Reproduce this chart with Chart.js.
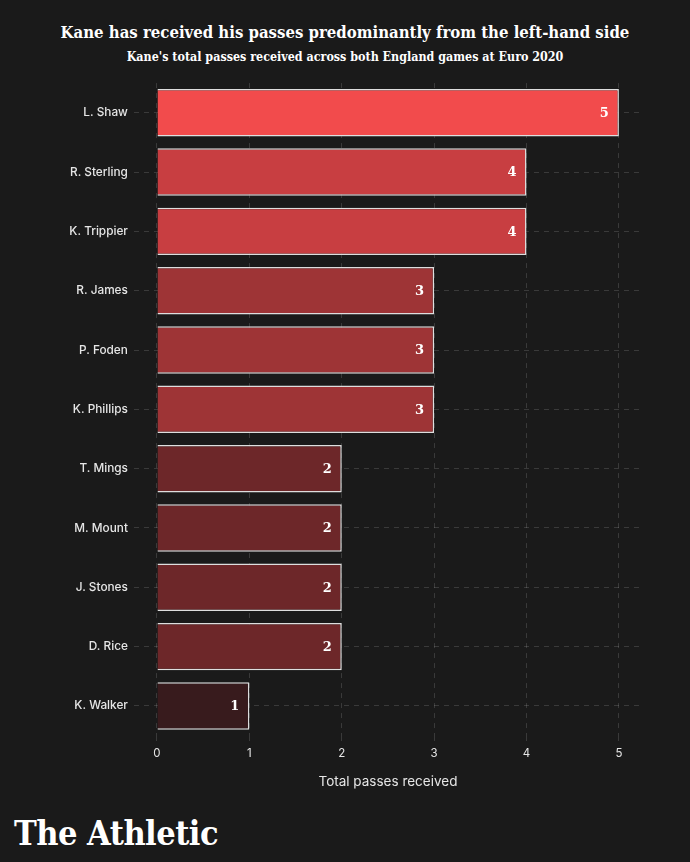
<!DOCTYPE html>
<html>
<head>
<meta charset="utf-8">
<script src="https://cdn.jsdelivr.net/npm/chart.js@4.4.0/dist/chart.umd.min.js"></script>
<style>
  html, body { margin: 0; padding: 0; background: #1a1a1a; }
  body { width: 690px; height: 862px; position: relative; overflow: hidden; }
  .title { position: absolute; top: 22px; left: 0; width: 690px; text-align: center; color: #fff;
    font-family: 'DejaVu Serif Condensed', 'DejaVu Serif', serif; font-weight: bold; font-size: 16.6px; }
  .subtitle { position: absolute; top: 49px; left: 0; width: 690px; text-align: center; color: #fff;
    font-family: 'DejaVu Serif Condensed', 'DejaVu Serif', serif; font-weight: bold; font-size: 12.4px; }
  .wrap { position: absolute; top: 70px; left: 0; width: 690px; height: 730px; }
  .logo { position: absolute; left: 14px; top: 813px; color: #fff;
    font-family: 'DejaVu Serif Condensed', 'DejaVu Serif', serif; font-weight: bold; font-size: 34px; letter-spacing: -0.5px; }
</style>
</head>
<body>
<div class="title">Kane has received his passes predominantly from the left-hand side</div>
<div class="subtitle">Kane's total passes received across both England games at Euro 2020</div>
<div class="wrap"><canvas id="passesChart" width="690" height="730"></canvas></div>
<div class="logo">The Athletic</div>
<script>
// Data
const players = ['L. Shaw', 'R. Sterling', 'K. Trippier', 'R. James', 'P. Foden', 'K. Phillips',
                 'T. Mings', 'M. Mount', 'J. Stones', 'D. Rice', 'K. Walker'];
const passes = [5, 4, 4, 3, 3, 3, 2, 2, 2, 2, 1];
const xTicks = [0, 1, 2, 3, 4, 5];

// Colours by value
const shades = {
    5: '#f24b4c',
    4: '#c83e41',
    3: '#9e3436',
    2: '#6d2729',
    1: '#381b1d'
};
const gridColor = 'rgba(255, 255, 255, 0.14)';
const textColor = '#e6e6e6';

const valueLabels = {
    id: 'valueLabels',
    afterDraw: (chart) => {
        const ctx = chart.ctx;
        const meta = chart.getDatasetMeta(0);
        ctx.save();
        ctx.fillStyle = '#ffffff';
        ctx.font = 'bold 13px "DejaVu Serif", serif';
        ctx.textAlign = 'right';
        ctx.textBaseline = 'middle';
        meta.data.forEach((bar, i) => {
            ctx.fillText(passes[i], bar.x - 10, bar.y + 1);
        });
        ctx.restore();
    }
};

new Chart(document.getElementById('passesChart').getContext('2d'), {
    type: 'bar',
    data: {
        labels: players,
        datasets: [{
            data: passes,
            backgroundColor: passes.map(v => shades[v]),
            borderColor: '#dedede',
            borderWidth: 1.5,
            categoryPercentage: 0.8,
            barPercentage: 1
        }]
    },
    options: {
        indexAxis: 'y',
        responsive: false,
        animation: false,
        layout: { padding: { top: 13, right: 48, bottom: 0, left: 0 } },
        plugins: {
            legend: { display: false },
            tooltip: { enabled: false }
        },
        scales: {
            x: {
                z: 1,
                min: -0.25,
                max: 5.25,
                afterBuildTicks: (axis) => { axis.ticks = xTicks.map(v => ({ value: v })); },
                afterFit: (axis) => { axis.height = 64.4; },
                border: { display: false, dash: [5, 5] },
                grid: { color: gridColor, tickColor: gridColor, tickLength: 10, tickBorderDash: [5, 5] },
                ticks: { color: textColor, padding: 1, font: { family: 'Inter', size: 11.5 } },
                title: {
                    display: true,
                    text: 'Total passes received',
                    color: textColor,
                    font: { family: 'Inter', size: 13.5 },
                    padding: { top: 0, bottom: 10 }
                }
            },
            y: {
                z: 1,
                afterFit: (axis) => { axis.width = 133.9; },
                border: { display: false, dash: [5, 5] },
                grid: { color: gridColor, drawTicks: false, offset: false },
                ticks: { color: textColor, padding: 6, font: { family: 'Inter', size: 11.8, weight: 500 } }
            }
        }
    },
    plugins: [valueLabels]
});
</script>
</body>
</html>
